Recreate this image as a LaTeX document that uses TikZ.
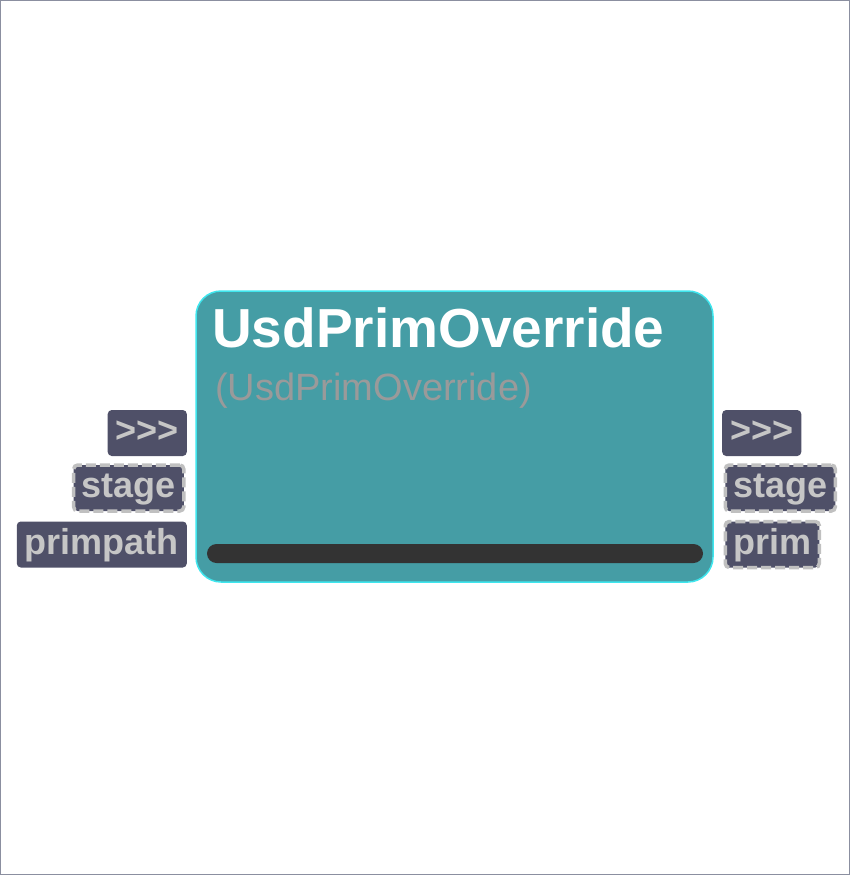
\documentclass[tikz,border=0pt]{standalone}
\usepackage{fontspec}
\setmainfont{Liberation Sans}
\usetikzlibrary{positioning}
\definecolor{nodeteal}{HTML}{459DA5}
\definecolor{nodeedge}{HTML}{3FE6EE}
\definecolor{portfill}{HTML}{4F5068}
\definecolor{porttext}{HTML}{C6C6C6}
\definecolor{portdash}{HTML}{C0C0C0}
\definecolor{subgray}{HTML}{9A9A9A}
\definecolor{barfill}{HTML}{333333}
\definecolor{frame}{HTML}{8B8FA0}

\tikzset{
    port/.style={fill=portfill, rounded corners=4pt, text=porttext, font=\fontsize{36}{36}\selectfont\bfseries,
        inner xsep=8pt, inner ysep=6.5pt, text height=26pt, text depth=7pt, minimum height=46pt},
    dashport/.style={port, draw=portdash, line width=3.5pt, dash pattern=on 10pt off 4pt}
}

\begin{document}
\begin{tikzpicture}[x=1pt, y=-1pt]
    \useasboundingbox (0,0) rectangle (850,875);
    \draw[frame, line width=1pt] (0.5,0.5) rectangle (849.5,874.5);

    % the node body
    \node (override) [fill=nodeteal, draw=nodeedge, line width=1.5pt, rounded corners=25pt,
        minimum width=517pt, minimum height=291pt, inner sep=0pt] at (454.5,436.5) {};
    \node (title) [anchor=base west, inner sep=0pt, text=white, font=\fontsize{55}{55}\selectfont\bfseries]
        at (212,347) {UsdPrimOverride};
    \node (subtitle) [anchor=base west, inner sep=0pt, text=subgray, font=\fontsize{38}{38}\selectfont]
        at (215,400) {(UsdPrimOverride)};
    \node (bar) [fill=barfill, rounded corners=9.5pt, minimum width=496pt, minimum height=19pt, inner sep=0pt]
        at (455,553.5) {};

    % inputs
    \node (inflow) [port, anchor=east] at (187,433) {{>}{>}{>}};
    \node (instage) [dashport, anchor=east] at (185.5,488) {stage};
    \node (inpath) [port, anchor=east] at (187,544.5) {primpath};

    % outputs
    \node (outflow) [port, anchor=west] at (722,433) {{>}{>}{>}};
    \node (outstage) [dashport, anchor=west] at (723.5,488) {stage};
    \node (outprim) [dashport, anchor=west] at (723.5,544.5) {prim};
\end{tikzpicture}
\end{document}
